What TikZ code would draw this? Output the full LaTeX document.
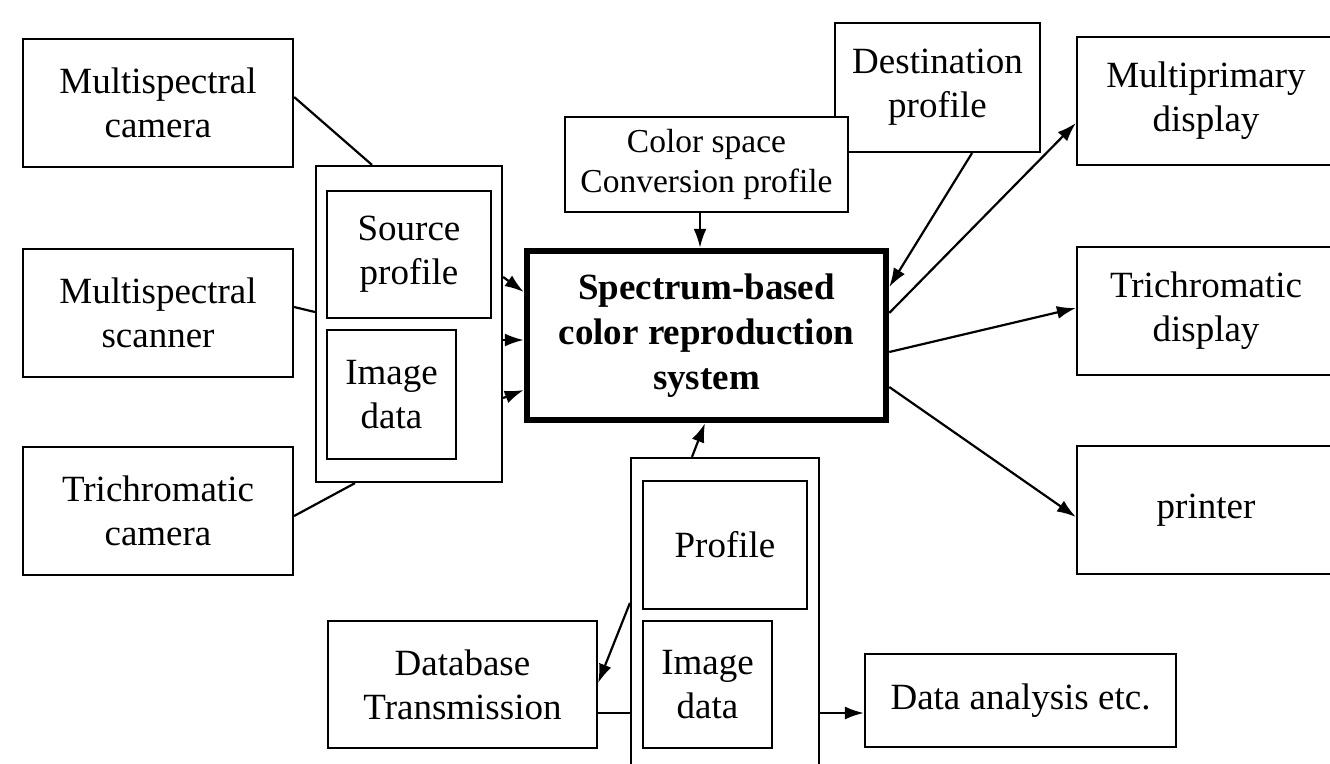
\documentclass[tikz,border=0pt]{standalone}
\usepackage{fontspec}
\setmainfont{Liberation Serif}
\usetikzlibrary{arrows.meta}
\begin{document}
\begin{tikzpicture}[x=1pt,y=-1pt,
  box/.style={draw, line width=2.2pt, fill=white, inner sep=0pt, align=center,
    font=\fontsize{37pt}{44pt}\selectfont},
  smallbox/.style={box, font=\fontsize{33.5pt}{40pt}\selectfont},
  mainbox/.style={box, line width=6.5pt, font=\fontsize{37pt}{45pt}\selectfont\bfseries},
  group/.style={draw, line width=2.2pt, fill=white, inner sep=0pt},
  link/.style={line width=2.2pt},
  flow/.style={line width=2.2pt, -{Latex[length=19pt,width=13pt]}}]
\useasboundingbox (0,0) rectangle (1330,763);
\clip (0,0) rectangle (1330,763);

% capture devices
\node[box, minimum width=270pt, minimum height=128pt] (mcam)  at (158,103) {Multispectral\\camera};
\node[box, minimum width=270pt, minimum height=128pt] (mscan) at (158,313) {Multispectral\\scanner};
\node[box, minimum width=270pt, minimum height=128pt] (tcam)  at (158,511) {Trichromatic\\camera};

% source bundle: profile + image data
\node[group, minimum width=186pt, minimum height=316pt] (src) at (409,324) {};
\node[box, minimum width=164pt, minimum height=127pt] (srcprof) at (409,254.5) {Source\\profile};
\node[box, minimum width=129pt, minimum height=129pt] (srcimg)  at (391.5,394.5) {Image\\data};

% profiles on top
\node[box, minimum width=205pt, minimum height=129pt] (dest) at (937.5,87.5) {Destination\\profile};
\node[smallbox, minimum width=283pt, minimum height=95pt] (csp) at (706.5,164.5) {Color space\\Conversion profile};

% central system
\node[mainbox, minimum width=359pt, minimum height=169pt] (main) at (706.5,335.5)
  {Spectrum-based\\color reproduction\\system};

% output devices
\node[box, minimum width=258pt, minimum height=128pt] (mpd) at (1206,101) {Multiprimary\\display};
\node[box, minimum width=258pt, minimum height=128pt] (tcd) at (1206,311) {Trichromatic\\display};
\node[box, minimum width=258pt, minimum height=128pt] (prn) at (1206,510) {printer};

% output bundle: profile + image data
\node[group, minimum width=188pt, minimum height=342pt] (out) at (725,629) {};
\node[box, minimum width=164pt, minimum height=128pt] (outprof) at (725,545) {Profile};
\node[box, minimum width=129pt, minimum height=127pt] (outimg)  at (707.5,684.5) {Image\\data};

\node[box, minimum width=269pt, minimum height=127pt] (db) at (462.5,684.5) {Database\\Transmission};
\node[box, minimum width=311pt, minimum height=93pt] (ana) at (1020.5,700.5) {Data analysis etc.};

% inputs to the source bundle
\draw[link] ([yshift=6pt]mcam.east) -- ([xshift=-37pt]src.north);
\draw[link] ([yshift=6pt]mscan.east) -- ([yshift=12pt]src.west);
\draw[link] ([yshift=-5pt]tcam.east) -- ([xshift=-54pt]src.south);

% source bundle into the system
\draw[flow] ([yshift=47pt]src.east)  -- ([yshift=43.5pt]main.west);
\draw[flow] ([yshift=-16pt]src.east) -- ([yshift=-4.5pt]main.west);
\draw[flow] ([yshift=-74pt]src.east) -- ([yshift=-54.5pt]main.west);

% profiles into the system
\draw[flow] ([xshift=-6.5pt]csp.south) -- ([xshift=-6.5pt]main.north);
\draw[flow] ([xshift=34.5pt]dest.south) -- ([yshift=48.5pt]main.east);

% system to output devices
\draw[flow] ([yshift=22.5pt]main.east)  -- ([yshift=-22pt]mpd.west);
\draw[flow] ([yshift=-16.5pt]main.east) -- ([yshift=3pt]tcd.west);
\draw[flow] ([yshift=-51.5pt]main.east) -- ([yshift=-7pt]prn.west);

% output bundle
\draw[flow] ([xshift=-33pt]out.north) -- ([xshift=-1.5pt]main.south);
\draw[flow] ([yshift=26pt]out.west) -- ([yshift=1.5pt]db.east);
\draw[link] ([yshift=-28.5pt]db.east) -- ([yshift=-84pt]out.west);
\draw[flow] ([yshift=-84pt]out.east) -- ([yshift=-12.5pt]ana.west);
\end{tikzpicture}
\end{document}
